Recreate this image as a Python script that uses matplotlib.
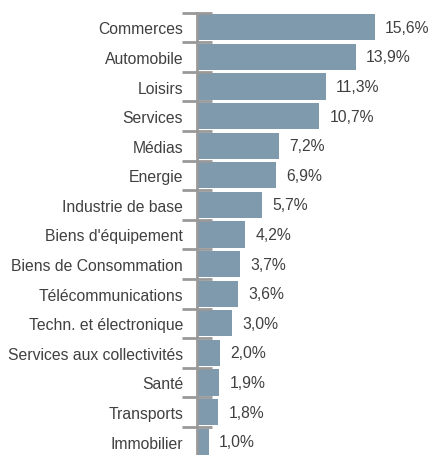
import numpy as np
import matplotlib.pyplot as plt

plt.rcParams['font.family'] = ['Liberation Sans', 'DejaVu Sans']

# Sector weights (%)
sectors = ['Commerces', 'Automobile', 'Loisirs', 'Services', 'Médias', 'Energie',
           'Industrie de base', "Biens d'équipement", 'Biens de Consommation',
           'Télécommunications', 'Techn. et électronique', 'Services aux collectivités',
           'Santé', 'Transports', 'Immobilier']
weights = [15.6, 13.9, 11.3, 10.7, 7.2, 6.9, 5.7, 4.2, 3.7, 3.6, 3.0, 2.0, 1.9, 1.8, 1.0]

bar_color = '#7f9aad'
text_color = '#404040'
axis_color = '#999999'

fig = plt.figure(figsize=(4.3, 4.56), dpi=100)
# rows are ~29.6 px high, the last one is slightly cut by the bottom edge
ax = fig.add_axes([197 / 430, -1.5 / 456, 233 / 430, 444 / 456])

n = len(sectors)
y = np.arange(n)
ax.barh(y, weights, height=0.88, color=bar_color, left=0.05)
ax.set_ylim(n - 0.5, -0.5)
ax.set_xlim(0, 20.5)

for yi, w in zip(y, weights):
    ax.text(w + 0.95, yi, f'{w:.1f}%'.replace('.', ','), va='center', ha='left',
            fontsize=11.3, color=text_color)

ax.set_yticks(y)
ax.set_yticklabels(sectors, fontsize=11.3, color=text_color)
ax.tick_params(axis='y', which='major', length=0, pad=10)
ax.set_yticks(np.arange(n) - 0.5, minor=True)
ax.tick_params(axis='y', which='minor', direction='inout', length=21, width=2,
               color=axis_color)
ax.set_xticks([])

for side in ['top', 'right', 'bottom']:
    ax.spines[side].set_visible(False)
ax.spines['left'].set_color(axis_color)
ax.spines['left'].set_linewidth(2)

fig.savefig('out.png', dpi=100)
